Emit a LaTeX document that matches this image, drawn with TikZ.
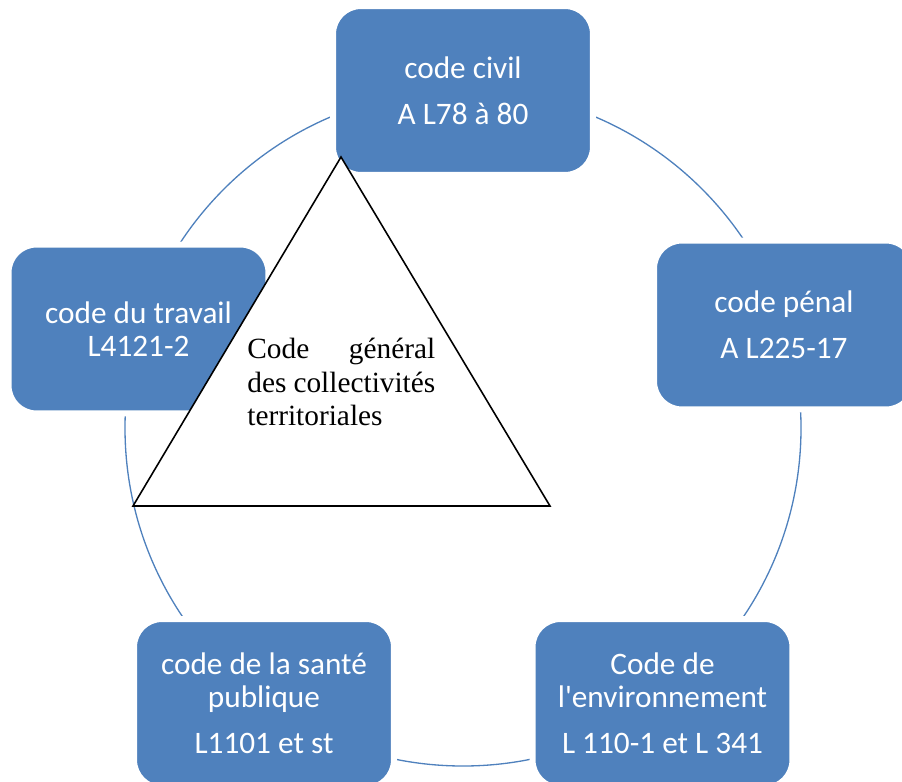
\documentclass[tikz,border=0pt]{standalone}
\usepackage{fontspec}
\setmainfont{Liberation Serif}
\newfontfamily\boxfont{Carlito}
\definecolor{codeblue}{HTML}{4F81BD}

\begin{document}
\begin{tikzpicture}[x=0.02cm,y=-0.02cm,
  codebox/.style={fill=codeblue,draw=white,line width=0.12cm,rounded corners=0.56cm,
    minimum width=5.2cm,minimum height=3.38cm,inner sep=0pt,text=white,align=center,
    font=\boxfont\fontsize{17.8}{18.8}\selectfont}]
\useasboundingbox (0,0) rectangle (902,781);
\clip (0,0) rectangle (902,781);

%The circle behind the codes
\draw[codeblue,line width=0.75pt] (463,428) circle [radius=338];

%Codes around the circle
\node[codebox] (civil) at (463,90.5) {code civil\\[7.4pt]A L78 à 80};
\node[codebox] (penal) at (784,325) {code pénal\\[7.4pt]A L225-17};
\node[codebox] (env) at (662.5,703.5) {Code de\\l'environnement\\[7.4pt]L 110-1 et L 341};
\node[codebox] (sante) at (264,703.5) {code de la santé\\publique\\[7.4pt]L1101 et st};
\node[codebox] (travail) at (138.5,329) {code du travail\\L4121-2};

%Triangle in the middle
\coordinate (top) at (341,157);
\coordinate (left) at (133,506);
\coordinate (right) at (550,506);
\filldraw[fill=white,draw=black,line width=0.9pt] (top) -- (left) -- (right) -- cycle;
\node[anchor=north west,inner sep=0pt,text width=3.76cm,align=justify,
  font=\fontsize{16.7}{19}\selectfont] (cgct) at (247,338)
  {Code général\linebreak des collectivités\linebreak territoriales};

\end{tikzpicture}
\end{document}
